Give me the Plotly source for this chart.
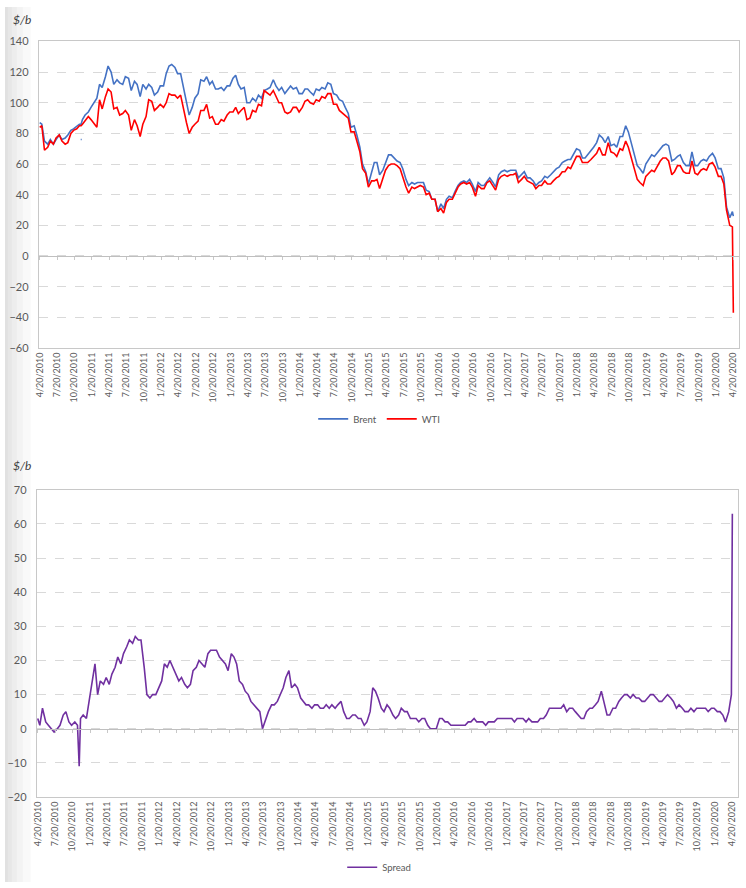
import pandas as pd
import plotly.graph_objects as go

# ---------------- data (semi-monthly readings, $/b) ----------------
# order per year: Jan1, Jan15, Feb1, Feb15, ... Dec1, Dec15
# 2010 starts 4/20 and has an extra 11/24 reading; 2020 ends Apr15 + 4/20
brent = [
    87, 86, 75, 73, 76, 73, 76, 79, 76, 77, 79, 82, 83, 85, 86, 86, 89, 92,               # 2010
    94, 97, 100, 103, 112, 110, 117, 124, 120, 112, 115, 113, 112, 117, 116, 108, 114, 112, 104, 112, 109, 112, 110, 105,  # 2011
    107, 111, 111, 119, 124, 125, 123, 119, 119, 111, 100, 92, 97, 103, 106, 115, 114, 117, 112, 114, 109, 109, 110, 108,   # 2012
    111, 111, 116, 118, 112, 109, 110, 100, 100, 103, 101, 105, 103, 108, 109, 110, 115, 111, 108, 110, 106, 108, 111, 109, # 2013
    110, 106, 106, 109, 109, 107, 105, 109, 108, 110, 109, 113, 112, 106, 105, 102, 101, 97, 93, 84, 85, 79, 71, 60,        # 2014
    55, 47, 54, 61, 61, 53, 56, 61, 66, 66, 64, 62, 61, 57, 50, 46, 48, 47, 48, 48, 48, 43, 42, 37,                        # 2015
    37, 29, 34, 31, 37, 39, 38, 42, 46, 48, 49, 48, 50, 47, 42, 48, 46, 46, 49, 51, 48, 45, 53, 55,                        # 2016
    56, 55, 56, 56, 56, 51, 53, 55, 51, 51, 49, 46, 48, 49, 52, 51, 53, 55, 57, 58, 61, 62, 63, 63,                        # 2017
    67, 70, 69, 64, 64, 66, 69, 71, 74, 79, 77, 74, 78, 72, 73, 71, 78, 78, 85, 81, 73, 67, 59, 57,                        # 2018
    54, 60, 63, 66, 65, 67, 70, 72, 73, 72, 62, 63, 65, 66, 61, 59, 59, 68, 59, 59, 62, 63, 62, 65,                        # 2019
    67, 64, 57, 57, 51, 32, 25, 29, 26,                                                                                    # 2020
]
wti = [
    84, 85, 69, 71, 75, 73, 77, 79, 75, 73, 74, 80, 82, 83, 85, 85, 86, 88,               # 2010
    91, 89, 86, 84, 102, 96, 104, 109, 107, 96, 97, 92, 93, 95, 92, 82, 89, 85, 78, 86, 91, 102, 101, 95,                  # 2011
    97, 99, 97, 100, 106, 105, 105, 103, 105, 96, 87, 80, 84, 86, 88, 95, 95, 99, 90, 91, 86, 86, 89, 88,                  # 2012
    92, 94, 94, 97, 93, 95, 97, 89, 90, 95, 94, 99, 98, 108, 106, 105, 108, 104, 100, 100, 94, 93, 94, 97,                 # 2013
    97, 94, 97, 101, 102, 100, 99, 102, 101, 104, 103, 106, 106, 99, 99, 95, 93, 92, 90, 81, 81, 75, 68, 57,               # 2014
    54, 45, 49, 49, 50, 44, 50, 56, 59, 60, 60, 59, 57, 51, 45, 41, 45, 44, 45, 46, 45, 40, 41, 37,                        # 2015
    37, 29, 31, 28, 35, 37, 37, 41, 45, 47, 48, 47, 48, 45, 39, 46, 44, 44, 48, 49, 46, 43, 50, 52,                        # 2016
    53, 52, 53, 53, 54, 48, 50, 52, 49, 48, 47, 44, 46, 46, 49, 47, 47, 49, 51, 52, 55, 55, 58, 57,                        # 2017
    61, 65, 65, 61, 61, 61, 63, 65, 67, 71, 66, 66, 74, 68, 67, 65, 70, 69, 75, 71, 64, 57, 50, 48,                        # 2018
    46, 52, 54, 56, 55, 58, 62, 64, 64, 62, 53, 55, 59, 59, 55, 54, 54, 62, 54, 53, 56, 57, 56, 60,                        # 2019
    61, 58, 52, 52, 47, 30, 20, 19, -37,                                                                                   # 2020
]
spread = [
    3, 1, 6, 2, 1, 0, -1, 0, 1, 4, 5, 2, 1, 2, 1, -11, 3, 4,                                # 2010
    3, 8, 14, 19, 10, 14, 13, 15, 13, 16, 18, 21, 19, 22, 24, 26, 25, 27, 26, 26, 18, 10, 9, 10,   # 2011
    10, 12, 14, 19, 18, 20, 18, 16, 14, 15, 13, 12, 13, 17, 18, 20, 19, 18, 22, 23, 23, 23, 21, 20, # 2012
    19, 17, 22, 21, 19, 14, 13, 11, 10, 8, 7, 6, 5, 0, 3, 5, 7, 7, 8, 10, 12, 15, 17, 12,          # 2013
    13, 12, 9, 8, 7, 7, 6, 7, 7, 6, 6, 7, 6, 7, 6, 7, 8, 5, 3, 3, 4, 4, 3, 3,                      # 2014
    1, 2, 5, 12, 11, 9, 6, 5, 7, 6, 4, 3, 4, 6, 5, 5, 3, 3, 3, 2, 3, 3, 1, 0,                      # 2015
    0, 0, 3, 3, 2, 2, 1, 1, 1, 1, 1, 1, 2, 2, 3, 2, 2, 2, 1, 2, 2, 2, 3, 3,                        # 2016
    3, 3, 3, 3, 2, 3, 3, 3, 2, 3, 2, 2, 2, 3, 3, 4, 6, 6, 6, 6, 6, 7, 5, 6,                        # 2017
    6, 5, 4, 3, 3, 5, 6, 6, 7, 8, 11, 8, 4, 4, 6, 6, 8, 9, 10, 10, 9, 10, 9, 9,                    # 2018
    8, 8, 9, 10, 10, 9, 8, 8, 9, 10, 9, 8, 6, 7, 6, 5, 5, 6, 5, 6, 6, 6, 6, 5,                     # 2019
    6, 6, 5, 5, 4, 2, 5, 10, 63,                                                                   # 2020
]
# isolated Brent outlier reading (short dash in the price chart)
brent_outlier_dates = ["2010-11-22", "2010-11-27"]
brent_outlier = [76, 76]

# ---------------- dates / ticks ----------------
dates = ["2010-04-20"]
for m in pd.date_range("2010-05-01", "2020-04-01", freq="MS"):
    dates.append(m.strftime("%Y-%m-01"))
    dates.append(m.strftime("%Y-%m-15"))
    if m.year == 2010 and m.month == 11:
        dates.append("2010-11-24")
dates.append("2020-04-20")
assert len(dates) == len(brent) == len(wti) == len(spread), (len(dates), len(brent), len(wti), len(spread))

tick_dates = [d + pd.Timedelta(days=19) for d in pd.date_range("2010-04-01", "2020-04-01", freq="3MS")]
tick_vals = [d.strftime("%Y-%m-%d") for d in tick_dates]
tick_text = [f"{d.month}/{d.day}/{d.year}" for d in tick_dates]

X_RANGE = ["2010-04-15", "2020-05-20"]
W, H = 746, 888
FONT = "Lato, 'Open Sans', sans-serif"
GRAY_TXT = "#595959"
FRAME = "#c8c8c8"
GRID = "#d9d9d9"
LW = 1.6

fig = go.Figure()
fig.add_trace(go.Scatter(x=dates, y=brent, name="Brent", mode="lines",
                         line=dict(color="#4472C4", width=LW), xaxis="x", yaxis="y", legend="legend"))
fig.add_trace(go.Scatter(x=brent_outlier_dates, y=brent_outlier, mode="lines", showlegend=False,
                         line=dict(color="#4472C4", width=LW), xaxis="x", yaxis="y"))
fig.add_trace(go.Scatter(x=dates, y=wti, name="WTI", mode="lines",
                         line=dict(color="#FF0000", width=LW), xaxis="x", yaxis="y", legend="legend"))
fig.add_trace(go.Scatter(x=dates, y=spread, name="Spread", mode="lines",
                         line=dict(color="#7030A0", width=LW), xaxis="x2", yaxis="y2", legend="legend2"))
# carriers for the zero-line axes
fig.add_trace(go.Scatter(x=[tick_vals[0]], y=[None], mode="lines", showlegend=False, xaxis="x3", yaxis="y"))
fig.add_trace(go.Scatter(x=[tick_vals[0]], y=[None], mode="lines", showlegend=False, xaxis="x4", yaxis="y2"))

top_x = [34 / W, 739 / W]
top_y = [1 - 346 / H, 1 - 35 / H]
bot_x = [32 / W, 738 / W]
bot_y = [1 - 801.7 / H, 1 - 490 / H]
top_zero = top_y[0] + (60 / 200) * (top_y[1] - top_y[0])
bot_zero = bot_y[0] + (20 / 90) * (bot_y[1] - bot_y[0])

def xax(domain, anchor):
    return dict(domain=domain, anchor=anchor, type="date", range=X_RANGE,
                tickmode="array", tickvals=tick_vals, ticktext=tick_text, tickangle=-90,
                tickfont=dict(family=FONT, size=9, color=GRAY_TXT), ticks="",
                showgrid=False, showline=True, linecolor=FRAME, linewidth=1, mirror=True,
                zeroline=False)

def zax(domain, over, pos):
    return dict(domain=domain, overlaying=over, anchor="free", position=pos, type="date",
                range=X_RANGE, tickmode="array", tickvals=tick_vals, showticklabels=False,
                ticks="outside", ticklen=3, tickcolor=FRAME, showline=True, linecolor="#bfbfbf",
                linewidth=1, showgrid=False, zeroline=False)

def yax(domain, anchor, rng, dt):
    return dict(domain=domain, anchor=anchor, range=rng, dtick=dt, tick0=0,
                showgrid=True, gridcolor=GRID, griddash="dash", gridwidth=1,
                zeroline=False, showline=True, linecolor=FRAME, linewidth=1, mirror=True,
                ticks="", ticklabelstandoff=7,
                tickfont=dict(family=FONT, size=11, color=GRAY_TXT))

shapes = []
for w in [3, 7, 12, 18, 26]:
    shapes.append(dict(type="rect", xref="paper", yref="paper", x0=0, x1=w / W, y0=0, y1=1,
                       fillcolor="rgba(0,0,0,0.022)", line=dict(width=0), layer="below"))

fig.update_layout(
    width=W, height=H, margin=dict(l=0, r=0, t=0, b=0),
    paper_bgcolor="white", plot_bgcolor="white",
    font=dict(family=FONT, color=GRAY_TXT),
    xaxis=xax(top_x, "y"), yaxis=yax(top_y, "x", [-60, 140], 20),
    xaxis2=xax(bot_x, "y2"), yaxis2=yax(bot_y, "x2", [-20, 70], 10),
    xaxis3=zax(top_x, "x", top_zero), xaxis4=zax(bot_x, "x2", bot_zero),
    legend=dict(orientation="h", x=0.505, xanchor="center", y=1 - 418 / H, yanchor="middle",
                font=dict(family=FONT, size=9.5, color=GRAY_TXT), bgcolor="rgba(0,0,0,0)",
                itemwidth=30, tracegroupgap=0),
    legend2=dict(orientation="h", x=0.505, xanchor="center", y=1 - 873 / H, yanchor="middle",
                 font=dict(family=FONT, size=9.5, color=GRAY_TXT), bgcolor="rgba(0,0,0,0)",
                 itemwidth=30),
    annotations=[
        dict(text="<i>$/b</i>", xref="paper", yref="paper", x=17.5 / W, y=1 - 13 / H,
             xanchor="center", yanchor="middle",
             showarrow=False, font=dict(family=FONT, size=12, color="#404040")),
        dict(text="<i>$/b</i>", xref="paper", yref="paper", x=17.5 / W, y=1 - 465 / H,
             xanchor="center", yanchor="middle",
             showarrow=False, font=dict(family=FONT, size=12, color="#404040")),
    ],
    shapes=shapes,
    showlegend=True,
)

fig.write_html("out.html")
